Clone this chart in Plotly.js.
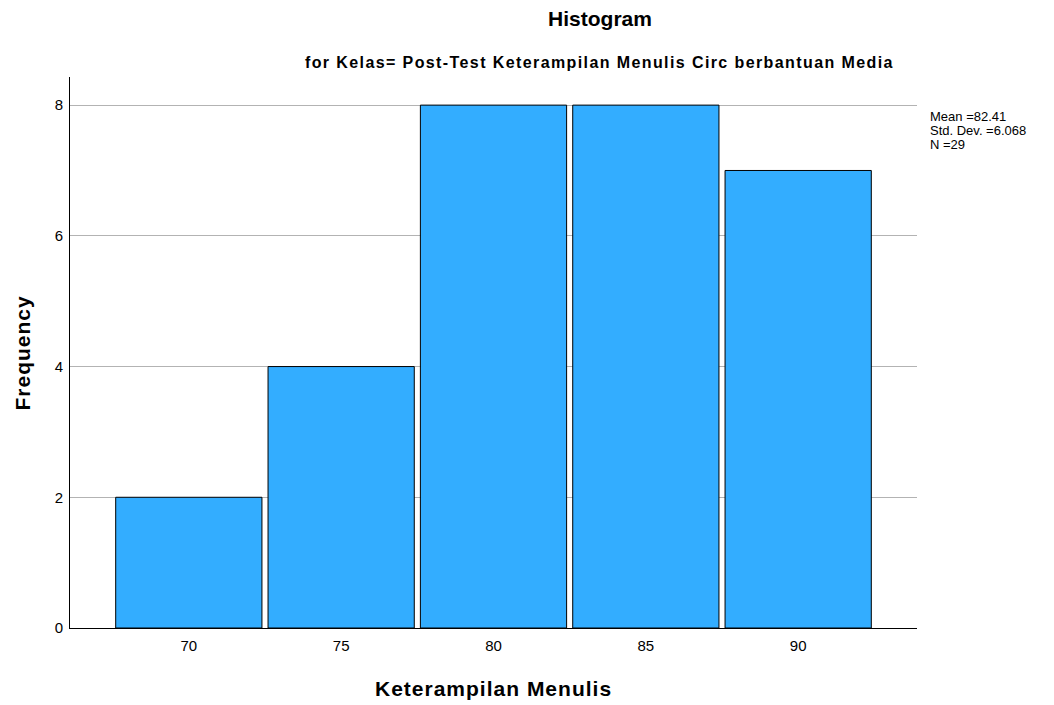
<!DOCTYPE html>
<html>
<head>
<meta charset="utf-8">
<script src="https://cdn.plot.ly/plotly-3.0.1.min.js"></script>
<style>html,body{margin:0;padding:0;background:#fff;}#chart{width:1054px;height:705px;}</style>
</head>
<body>
<div id="chart"></div>
<script>
const binCenters = [70, 75, 80, 85, 90];
const frequencies = [2, 4, 8, 8, 7];
const tickLabels = ["70", "75", "80", "85", "90"];
const yTicks = [0, 2, 4, 6, 8];
const statsLines = ["Mean =82.41", "Std. Dev. =6.068", "N =29"];
const chartTitle = "Histogram";
const chartSubtitle = "for Kelas= Post-Test Keterampilan Menulis Circ berbantuan Media";
const xTitle = "Keterampilan Menulis";
const yTitle = "Frequency";

const FONT = "Liberation Sans";

const trace = {
  type: "bar",
  x: binCenters,
  y: frequencies,
  width: 4.8,
  marker: {color: "#33adff", line: {color: "#000000", width: 1}},
  hoverinfo: "x+y"
};

const statsY = [0.9292, 0.9038, 0.8784];
const annotations = [
  {xref: "paper", yref: "paper", x: 0.6257, y: 1.0272, xanchor: "center", yanchor: "middle",
   text: "<b>" + chartSubtitle + "</b>", showarrow: false, font: {size: 16, family: FONT, color: "#000"}},
  {xref: "paper", yref: "paper", x: 0.5, y: -0.1089, xanchor: "center", yanchor: "middle",
   text: "<b>" + xTitle + "</b>", showarrow: false, font: {size: 21, family: FONT, color: "#000"}},
  {xref: "paper", yref: "paper", x: -0.0567, y: 0.5009, xanchor: "center", yanchor: "middle", textangle: -90,
   text: "<b>" + yTitle + "</b>", showarrow: false, font: {size: 21, family: FONT, color: "#000"}}
];
statsLines.forEach((s, i) => annotations.push({
  xref: "paper", yref: "paper", x: 1.0142, y: statsY[i], xanchor: "left", yanchor: "middle",
  text: s, showarrow: false, font: {size: 13, family: FONT, color: "#000"}, borderpad: 0
}));

const layout = {
  width: 1054, height: 705,
  margin: {l: 70, r: 137, t: 77, b: 77},
  paper_bgcolor: "#ffffff", plot_bgcolor: "#ffffff",
  font: {family: FONT, size: 15, color: "#000"},
  showlegend: false,
  title: {text: "<b>" + chartTitle + "</b>", font: {family: FONT, size: 21, color: "#000"},
          xref: "container", yref: "container", x: 0.5693, xanchor: "center", y: 0.973, yanchor: "middle"},
  xaxis: {
    range: [66.1, 93.9], tickvals: binCenters, ticktext: tickLabels,
    showgrid: false, zeroline: false, showline: true, linecolor: "#000", linewidth: 1,
    ticks: "", ticklabelstandoff: 4, tickfont: {size: 15, family: FONT, color: "#000"}
  },
  yaxis: {
    range: [0, 8.43], tickvals: yTicks,
    showgrid: true, gridcolor: "#b3b3b3", gridwidth: 1, zeroline: false,
    showline: true, linecolor: "#000", linewidth: 1, ticks: "", ticklabelstandoff: 3,
    tickfont: {size: 15, family: FONT, color: "#000"}
  },
  annotations: annotations
};

Plotly.newPlot("chart", [trace], layout, {displayModeBar: false, responsive: false}).then(() => {
  const spacing = ["1.4px", "1px", "1px"];
  document.querySelectorAll("#chart .annotation-text").forEach((el, i) => {
    if (spacing[i]) el.style.letterSpacing = spacing[i];
  });
});
</script>
</body>
</html>
